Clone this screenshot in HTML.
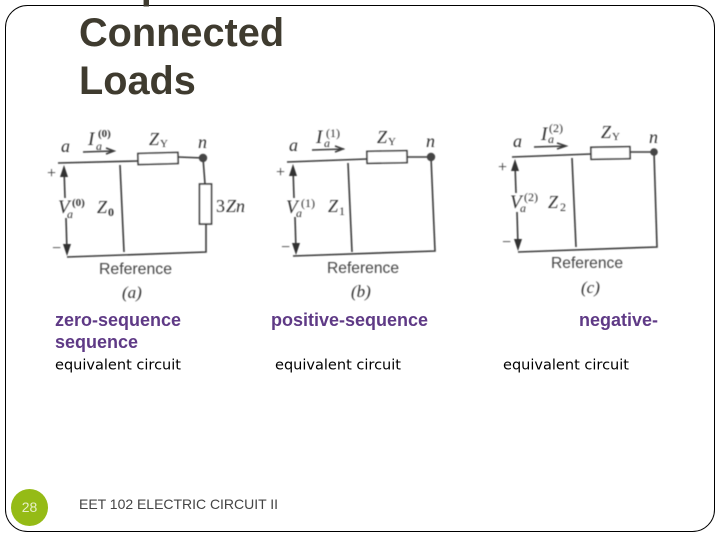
<!DOCTYPE html>
<html><head><meta charset="utf-8"><style>
html,body{margin:0;padding:0;background:#fff}
svg{display:block}
.l{font-family:"Liberation Sans",sans-serif;font-weight:bold;font-size:18px;fill:#5f3a86}
.e{font-family:"DejaVu Sans",sans-serif;font-size:14.5px;fill:#000}
.w{fill:none;stroke:#3a3a3a;stroke-width:1.6}
.r{fill:#fff;stroke:#3a3a3a;stroke-width:1.6}
.s{font-family:"Liberation Serif",serif;fill:#333}
.i{font-style:italic}
.rf{font-family:"Liberation Sans",sans-serif;font-size:16px;fill:#444}
.f{font-family:"Liberation Sans",sans-serif;font-size:14px;fill:#444}
</style></head><body>
<svg width="720" height="540" viewBox="0 0 720 540" xmlns="http://www.w3.org/2000/svg">
<defs><filter id="b" x="-5%" y="-5%" width="110%" height="110%"><feGaussianBlur stdDeviation="0.4"/></filter></defs>
<rect width="720" height="540" fill="#fff"/>
<rect x="5.5" y="5.5" width="709" height="526" rx="22" ry="22" fill="none" stroke="#000" stroke-width="1"/>
<g font-family="Liberation Sans,sans-serif" font-weight="bold" font-size="39.7" fill="#3f3b2f">
<text x="79" y="-2">Sequence</text>
<text x="79" y="46">Connected</text>
<text x="79" y="94">Loads</text>
</g>

<g filter="url(#b)">
<!-- circuit a -->
<path class="w" d="M58 163L138 161M178 157L203 158L205 184M206 224L206 252L67 257M120 165L124 252M64 168L65 198M66 218L67 252"/>
<rect class="r" x="138" y="153" width="40" height="11" transform="rotate(-1.5 158 158)"/>
<rect class="r" x="199.500" y="184" width="12" height="40"/>
<circle cx="203" cy="158" r="4.200" fill="#444"/>
<path d="M64 165L60 177L68 177Z M67 256L63 244L71 244Z" fill="#333"/>
<path class="w" d="M83 152L113 151M106 148L114 151L106 154"/>
<text class="s i" x="61" y="152" font-size="18">a</text>
<text class="s i" x="88" y="145" font-size="19">I</text>
<text class="s i" x="96" y="150" font-size="12">a</text>
<text class="s" x="98" y="137" font-size="11" font-weight="bold">(0)</text>
<text class="s i" x="149" y="145" font-size="18">Z</text>
<text class="s" x="160" y="147" font-size="11">Y</text>
<text class="s i" x="198" y="148" font-size="18">n</text>
<text class="s" x="47" y="178" font-size="16">+</text>
<text class="s" x="52" y="253" font-size="16">−</text>
<text class="s i" x="58" y="213" font-size="19">V</text>
<text class="s i" x="67" y="218" font-size="12">a</text>
<text class="s" x="72" y="206" font-size="11" font-weight="bold">(0)</text>
<text class="s i" x="97" y="213" font-size="18">Z</text>
<text class="s" x="108" y="216" font-size="12" font-weight="bold">0</text>
<text class="s" x="216" y="212" font-size="18">3</text>
<text class="s i" x="226" y="212" font-size="18">Zn</text>
<text class="rf" x="99" y="274" textLength="73" lengthAdjust="spacingAndGlyphs">Reference</text>
<text class="s i" x="122" y="298" font-size="17">(a)</text>

<!-- circuit b -->
<path class="w" d="M287 162L367 159M407 157L431 157L435 251L293 256M348 163L352 252M293 168L294 198M295 217L296 250"/>
<rect class="r" x="367" y="151" width="40" height="12" transform="rotate(-1 387 157)"/>
<circle cx="431" cy="157" r="4.200" fill="#444"/>
<path d="M293 164L289 176L297 176Z M296 255L292 243L300 243Z" fill="#333"/>
<path class="w" d="M312 150L344 149M335 146L343 149L335 152"/>
<text class="s i" x="289" y="151" font-size="18">a</text>
<text class="s i" x="316" y="143" font-size="19">I</text>
<text class="s i" x="324" y="147" font-size="12">a</text>
<text class="s" x="326" y="137" font-size="12">(1)</text>
<text class="s i" x="377" y="143" font-size="18">Z</text>
<text class="s" x="388" y="145" font-size="11">Y</text>
<text class="s i" x="426" y="147" font-size="18">n</text>
<text class="s" x="276" y="177" font-size="16">+</text>
<text class="s" x="281" y="252" font-size="16">−</text>
<text class="s i" x="286" y="213" font-size="19">V</text>
<text class="s i" x="296" y="217" font-size="12">a</text>
<text class="s" x="301" y="207" font-size="12">(1)</text>
<text class="s i" x="328" y="212" font-size="18">Z</text>
<text class="s" x="339" y="215" font-size="12">1</text>
<text class="rf" x="327" y="273" textLength="72" lengthAdjust="spacingAndGlyphs">Reference</text>
<text class="s i" x="351" y="297" font-size="17">(b)</text>

<!-- circuit c -->
<path class="w" d="M512 157L591 154M630 152L654 152L657 247L518 252M572 158L576 247M515 164L516 193M517 212L518 246"/>
<rect class="r" x="591" y="147" width="39" height="12" transform="rotate(-1 610 153)"/>
<circle cx="654" cy="152" r="3.800" fill="#444"/>
<path d="M515 159L511 171L519 171Z M518 251L514 239L522 239Z" fill="#333"/>
<path class="w" d="M534 147L566 146M557 143L566 146L557 149"/>
<text class="s i" x="513" y="147" font-size="18">a</text>
<text class="s i" x="541" y="140" font-size="19">I</text>
<text class="s i" x="548" y="143" font-size="12">a</text>
<text class="s" x="549" y="132" font-size="12">(2)</text>
<text class="s i" x="601" y="138" font-size="18">Z</text>
<text class="s" x="612" y="140" font-size="11">Y</text>
<text class="s i" x="649" y="143" font-size="18">n</text>
<text class="s" x="498" y="172" font-size="16">+</text>
<text class="s" x="502" y="247" font-size="16">−</text>
<text class="s i" x="510" y="208" font-size="19">V</text>
<text class="s i" x="520" y="212" font-size="12">a</text>
<text class="s" x="524" y="201" font-size="12">(2)</text>
<text class="s i" x="548" y="208" font-size="18">Z</text>
<text class="s" x="560" y="211" font-size="12">2</text>
<text class="rf" x="551" y="268" textLength="72" lengthAdjust="spacingAndGlyphs">Reference</text>
<text class="s i" x="581" y="293" font-size="17">(c)</text>
</g>

<text class="l" x="55" y="326" textLength="126" lengthAdjust="spacingAndGlyphs">zero-sequence</text>
<text class="l" x="55" y="348" textLength="83" lengthAdjust="spacingAndGlyphs">sequence</text>
<text class="e" x="55" y="369.500" textLength="126" lengthAdjust="spacingAndGlyphs">equivalent circuit</text>
<text class="l" x="271" y="326" textLength="157" lengthAdjust="spacingAndGlyphs">positive-sequence</text>
<text class="e" x="275" y="369.500" textLength="126" lengthAdjust="spacingAndGlyphs">equivalent circuit</text>
<text class="l" x="579" y="326" textLength="79" lengthAdjust="spacingAndGlyphs">negative-</text>
<text class="e" x="503" y="369.500" textLength="126" lengthAdjust="spacingAndGlyphs">equivalent circuit</text>

<circle cx="29.500" cy="507.500" r="18.500" fill="#95bb16"/>
<text x="29.500" y="512" text-anchor="middle" font-family="Liberation Sans,sans-serif" font-size="14" fill="#e8f0c8">28</text>
<text class="f" x="79" y="509" textLength="199">EET 102 ELECTRIC CIRCUIT II</text>
</svg>
</body></html>
